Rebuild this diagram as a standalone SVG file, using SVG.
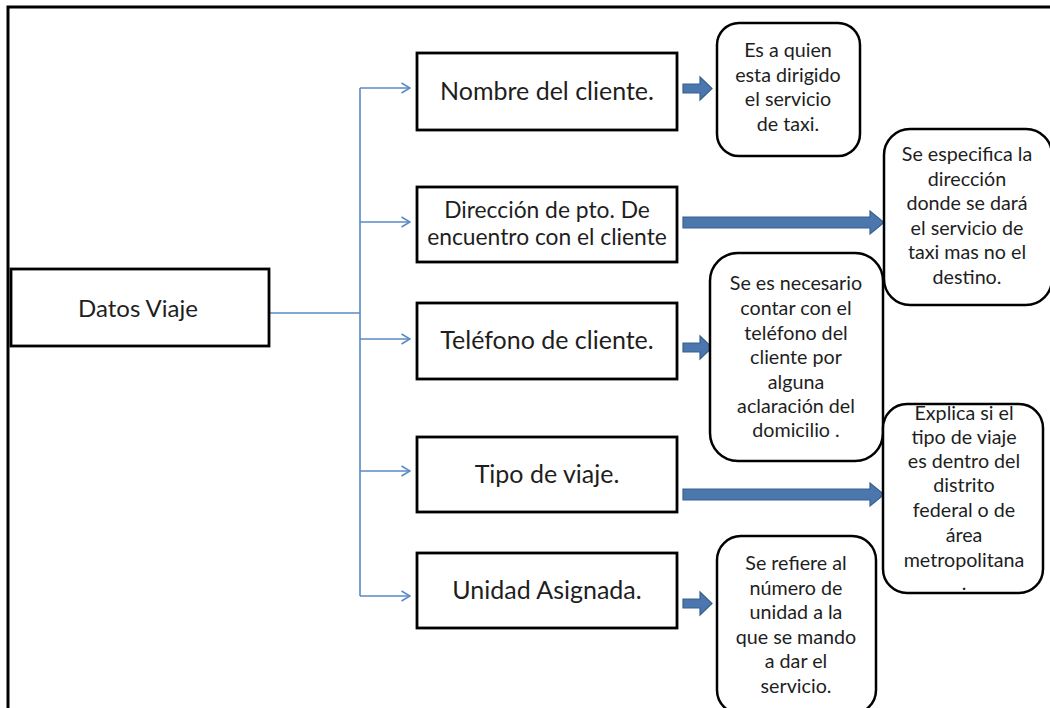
<svg xmlns="http://www.w3.org/2000/svg" width="1050" height="708" viewBox="0 0 1050 708">
  <style>
    .frame { fill: none; stroke: #000; stroke-width: 3; }
    .box { fill: #fff; stroke: #000; stroke-width: 2.8; }
    .note { fill: #fff; stroke: #000; stroke-width: 2.5; }
    .main { font-family: Lato, "Liberation Sans", sans-serif; font-size: 25px; fill: #1e1e1e; text-anchor: middle; }
    .main2 { font-family: Lato, "Liberation Sans", sans-serif; font-size: 22.8px; fill: #1e1e1e; text-anchor: middle; }
    .small { font-family: Lato, "Liberation Sans", sans-serif; font-size: 19.7px; fill: #1e1e1e; text-anchor: middle; }
    .link { fill: none; stroke: #5a8ac6; stroke-width: 1.6; }
    .block { fill: #4b77ae; stroke: #38608f; stroke-width: 1.2; }
  </style>
  <defs>
    <marker id="open" viewBox="0 0 10 12" refX="9.5" refY="6" markerWidth="10" markerHeight="12" markerUnits="userSpaceOnUse" orient="auto">
      <path d="M1,1 L9.5,6 L1,11" fill="none" stroke="#5a8ac6" stroke-width="1.6"/>
    </marker>
  </defs>

  <rect width="1050" height="708" fill="#fff"/>
  <!-- page frame: top and left edges -->
  <path class="frame" d="M8,720 L8,7 L1060,7"/>

  <!-- tree connectors -->
  <g id="connectors">
    <path class="link" d="M269,313 L360,313"/>
    <path class="link" d="M360,88 L360,596"/>
    <path class="link" d="M360,88 L410,88" marker-end="url(#open)"/>
    <path class="link" d="M360,222 L410,222" marker-end="url(#open)"/>
    <path class="link" d="M360,339 L410,339" marker-end="url(#open)"/>
    <path class="link" d="M360,471 L410,471" marker-end="url(#open)"/>
    <path class="link" d="M360,596 L410,596" marker-end="url(#open)"/>
    <!-- block arrows toward the notes -->
    <path class="block" d="M683,84 L700,84 L700,77 L712,88.5 L700,100 L700,93 L683,93 Z"/>
    <path class="block" d="M683,217 L870,217 L870,211 L884,222.5 L870,234 L870,228 L683,228 Z"/>
    <path class="block" d="M683,343 L700,343 L700,336 L712,347.5 L700,359 L700,352 L683,352 Z"/>
    <path class="block" d="M683,489 L870,489 L870,483 L884,494.5 L870,506 L870,500 L683,500 Z"/>
    <path class="block" d="M683,599 L700,599 L700,592 L712,603.5 L700,615 L700,608 L683,608 Z"/>
  </g>

  <g id="datos-viaje">
    <rect class="box" x="11" y="269" width="258" height="77"/>
    <text class="main" x="138" y="317" style="font-size:24px">Datos Viaje</text>
  </g>

  <g id="nombre">
    <rect class="box" x="417" y="53" width="260" height="77"/>
    <text class="main" x="547" y="100">Nombre del cliente.</text>
  </g>

  <g id="direccion">
    <rect class="box" x="417" y="187" width="260" height="75"/>
    <text class="main2" x="547" y="218">Dirección de pto. De</text>
    <text class="main2" x="547" y="245">encuentro con el cliente</text>
  </g>

  <g id="telefono">
    <rect class="box" x="417" y="303" width="260" height="76"/>
    <text class="main" x="547" y="349">Teléfono de cliente.</text>
  </g>

  <g id="tipo">
    <rect class="box" x="417" y="437" width="260" height="75"/>
    <text class="main" x="547" y="483">Tipo de viaje.</text>
  </g>

  <g id="unidad">
    <rect class="box" x="417" y="553" width="260" height="75"/>
    <text class="main" x="547" y="599">Unidad Asignada.</text>
  </g>

  <g id="nota-nombre">
    <rect class="note" x="717" y="23" width="143" height="133" rx="22"/>
    <text class="small" x="788" y="57">Es a quien</text>
    <text class="small" x="788" y="82">esta dirigido</text>
    <text class="small" x="788" y="106">el servicio</text>
    <text class="small" x="788" y="131">de taxi.</text>
  </g>

  <g id="nota-direccion">
    <rect class="note" x="884" y="129" width="168" height="176" rx="26"/>
    <text class="small" x="967" y="161">Se especifica la</text>
    <text class="small" x="967" y="186">dirección</text>
    <text class="small" x="967" y="210">donde se dará</text>
    <text class="small" x="967" y="235">el servicio de</text>
    <text class="small" x="967" y="259">taxi mas no el</text>
    <text class="small" x="967" y="284">destino.</text>
  </g>

  <g id="nota-telefono">
    <rect class="note" x="710" y="253" width="173" height="208" rx="28"/>
    <text class="small" x="796" y="290">Se es necesario</text>
    <text class="small" x="796" y="315">contar con el</text>
    <text class="small" x="796" y="340">teléfono del</text>
    <text class="small" x="796" y="364">cliente por</text>
    <text class="small" x="796" y="389">alguna</text>
    <text class="small" x="796" y="413">aclaración del</text>
    <text class="small" x="796" y="437">domicilio .</text>
  </g>

  <g id="nota-tipo">
    <rect class="note" x="883" y="404" width="160" height="189" rx="24"/>
    <text class="small" x="964" y="420">Explica si el</text>
    <text class="small" x="964" y="444">tipo de viaje</text>
    <text class="small" x="964" y="468">es dentro del</text>
    <text class="small" x="964" y="492">distrito</text>
    <text class="small" x="964" y="517">federal o de</text>
    <text class="small" x="964" y="542">área</text>
    <text class="small" x="964" y="567">metropolitana</text>
    <text class="small" x="964" y="590">.</text>
  </g>

  <g id="nota-unidad">
    <rect class="note" x="717" y="536" width="159" height="178" rx="24"/>
    <text class="small" x="796" y="570">Se refiere al</text>
    <text class="small" x="796" y="595">número de</text>
    <text class="small" x="796" y="619">unidad a la</text>
    <text class="small" x="796" y="644">que se mando</text>
    <text class="small" x="796" y="668">a dar el</text>
    <text class="small" x="796" y="693">servicio.</text>
  </g>
</svg>
